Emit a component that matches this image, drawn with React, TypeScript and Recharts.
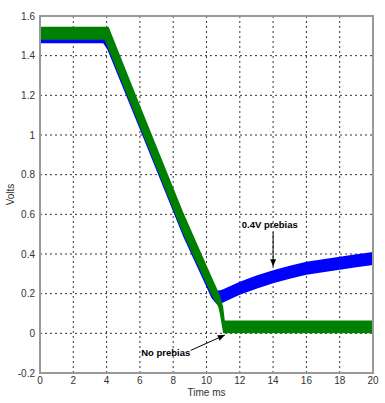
import React from 'react';
import {
  ComposedChart,
  Area,
  XAxis,
  YAxis,
  CartesianGrid,
  ReferenceArea,
  ReferenceLine,
  ReferenceDot,
} from 'recharts';

// ---- data ----
const timeTicks = [0, 2, 4, 6, 8, 10, 12, 14, 16, 18, 20];
const voltTicks = [-0.2, 0, 0.2, 0.4, 0.6, 0.8, 1, 1.2, 1.4, 1.6];

// 0.4V prebias (blue) – noisy trace envelope (lower / upper edge)
const prebiasTime = [0, 3.8, 4.05, 6.1, 8.6, 10.3, 10.6, 10.9, 12, 13, 14, 15, 16, 17, 18, 19, 20];
const prebiasLow = [1.462, 1.462, 1.43, 1.008, 0.488, 0.178, 0.148, 0.152, 0.194, 0.225, 0.252, 0.275, 0.295, 0.308, 0.32, 0.333, 0.344];
const prebiasHigh = [1.52, 1.52, 1.52, 1.11, 0.59, 0.25, 0.215, 0.218, 0.26, 0.291, 0.318, 0.341, 0.361, 0.374, 0.386, 0.399, 0.41];

// No prebias (green) – noisy trace envelope (lower / upper edge)
const noPrebiasTime = [0, 3.88, 4.12, 6.1, 8.6, 10.3, 10.7, 10.8, 11.0, 11.1, 20];
const noPrebiasLow = [1.48, 1.48, 1.43, 1.02, 0.5, 0.193, 0.134, 0.1, 0.0, 0.0, 0.0];
const noPrebiasHigh = [1.546, 1.546, 1.546, 1.13, 0.61, 0.287, 0.212, 0.193, 0.134, 0.065, 0.065];

// annotations (data coordinates)
const prebiasLabel = { t: 13.8, v: 0.551, text: '0.4V prebias' };
const prebiasArrow = [{ x: 14, y: 0.51 }, { x: 14, y: 0.338 }];
const noPrebiasLabel = { t: 7.55, v: -0.098, text: 'No prebias' };
const noPrebiasArrow = [{ x: 9.05, y: -0.086 }, { x: 11.1, y: -0.009 }];

const prebiasData = prebiasTime.map((t, i) => ({ t, band: [prebiasLow[i], prebiasHigh[i]] }));
const noPrebiasData = noPrebiasTime.map((t, i) => ({ t, band: [noPrebiasLow[i], noPrebiasHigh[i]] }));

const FONT = "'Liberation Sans Narrow', 'Liberation Sans', Arial, sans-serif";
const BOLD_FONT = "'Liberation Sans', Arial, sans-serif";

const Arrow = (props: any) => {
  const { x1, y1, x2, y2 } = props;
  const ang = Math.atan2(y2 - y1, x2 - x1);
  const len = 7;
  const w = 3;
  const bx = x2 - len * Math.cos(ang);
  const by = y2 - len * Math.sin(ang);
  const px = -Math.sin(ang) * w;
  const py = Math.cos(ang) * w;
  return (
    <g>
      <line x1={x1} y1={y1} x2={x2} y2={y2} stroke="#000" strokeWidth={1} />
      <polygon
        points={`${x2},${y2} ${bx + px},${by + py} ${bx - px},${by - py}`}
        fill="#000"
      />
    </g>
  );
};

const makeText = (text: string) => (props: any) => {
  const { cx, cy } = props;
  return (
    <text
      x={cx}
      y={cy}
      textAnchor="middle"
      dominantBaseline="central"
      fontFamily={BOLD_FONT}
      fontWeight="bold"
      fontSize={9.5}
      fill="#000"
    >
      {text}
    </text>
  );
};

const XLabel = (props: any) => {
  const vb = props.viewBox;
  return (
    <text
      x={vb.x + vb.width / 2}
      y={vb.y + 19}
      textAnchor="middle"
      dominantBaseline="central"
      fontFamily={FONT}
      fontSize={10}
      fill="#333"
    >
      Time ms
    </text>
  );
};

const YLabel = (props: any) => {
  const vb = props.viewBox;
  const x = vb.x + 10;
  const y = vb.y + vb.height / 2;
  return (
    <text
      x={x}
      y={y}
      transform={`rotate(-90 ${x} ${y})`}
      textAnchor="middle"
      dominantBaseline="central"
      fontFamily={FONT}
      fontSize={10}
      fill="#333"
    >
      Volts
    </text>
  );
};

export default function App() {
  return (
    <div style={{ position: 'absolute', left: 0, top: 0, background: '#fff' }}>
      <ComposedChart
        width={385}
        height={403}
        margin={{ top: 16, right: 12, left: 0, bottom: 0 }}
      >
        <CartesianGrid stroke="#333" strokeDasharray="2 3" strokeWidth={1} />
        <XAxis
          dataKey="t"
          type="number"
          domain={[0, 20]}
          ticks={timeTicks}
          allowDataOverflow
          height={30}
          axisLine={false}
          tickLine={false}
          tickSize={0}
          tickMargin={4}
          tick={{ fontFamily: FONT, fontSize: 10, fill: '#333' }}
          label={<XLabel />}
        />
        <YAxis
          type="number"
          domain={[-0.2, 1.6]}
          ticks={voltTicks}
          allowDataOverflow
          width={40}
          axisLine={false}
          tickLine={false}
          tickSize={0}
          tickMargin={5}
          tickFormatter={(v: number) => String(v)}
          tick={{ fontFamily: FONT, fontSize: 10, fill: '#333' }}
          label={<YLabel />}
        />
        <Area
          data={prebiasData}
          dataKey="band"
          type="linear"
          stroke="none"
          fill="#0000FF"
          fillOpacity={1}
          dot={false}
          activeDot={false}
          isAnimationActive={false}
        />
        <Area
          data={noPrebiasData}
          dataKey="band"
          type="linear"
          stroke="none"
          fill="#008000"
          fillOpacity={1}
          dot={false}
          activeDot={false}
          isAnimationActive={false}
        />
        <ReferenceArea
          x1={0}
          x2={20}
          y1={-0.2}
          y2={1.6}
          fill="none"
          fillOpacity={0}
          stroke="#999"
          strokeWidth={2}
        />
        <ReferenceLine segment={prebiasArrow} shape={<Arrow />} />
        <ReferenceLine segment={noPrebiasArrow} shape={<Arrow />} />
        <ReferenceDot
          x={prebiasLabel.t}
          y={prebiasLabel.v}
          r={0}
          shape={makeText(prebiasLabel.text)}
        />
        <ReferenceDot
          x={noPrebiasLabel.t}
          y={noPrebiasLabel.v}
          r={0}
          shape={makeText(noPrebiasLabel.text)}
        />
      </ComposedChart>
    </div>
  );
}
